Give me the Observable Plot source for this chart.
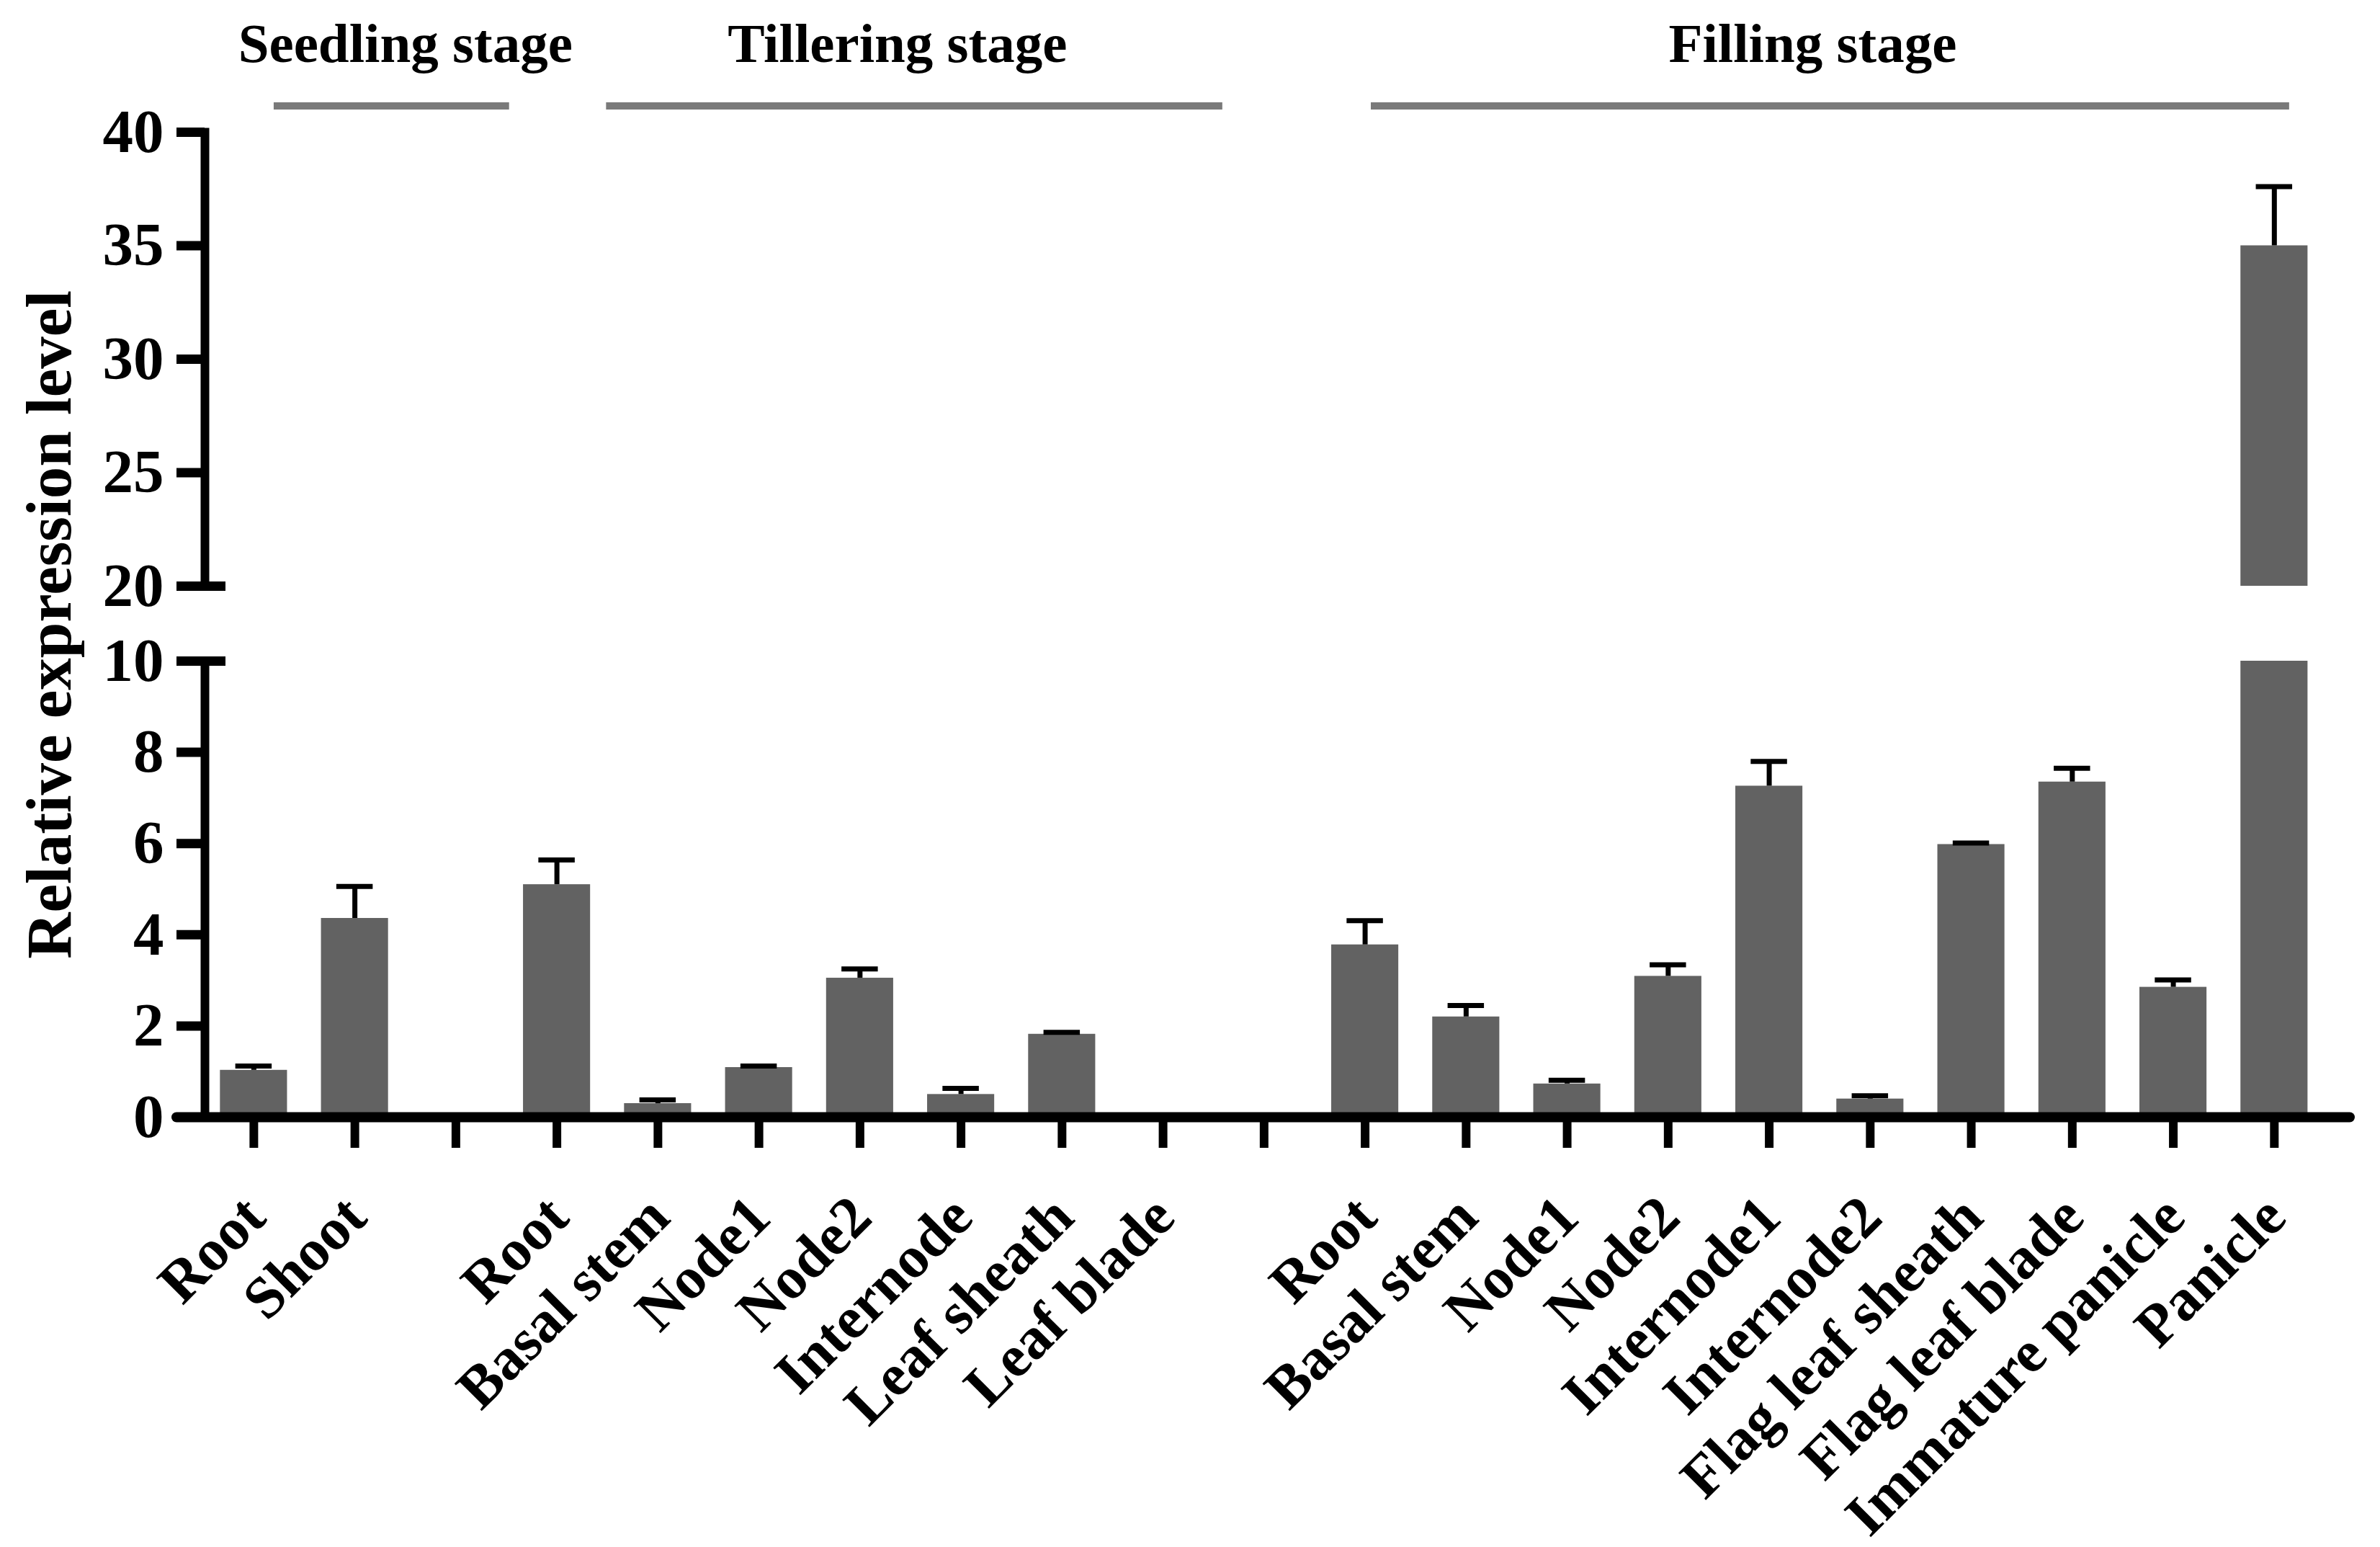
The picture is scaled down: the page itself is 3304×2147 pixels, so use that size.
<!DOCTYPE html>
<html><head><meta charset="utf-8">
<script src="https://cdn.jsdelivr.net/npm/d3@7"></script>
<script src="https://cdn.jsdelivr.net/npm/@observablehq/plot@0.6"></script>
<style>
html,body{margin:0;padding:0;background:#fff;}
#chart{width:3304px;height:2147px;position:relative;overflow:hidden;background:#fff;}
#chart svg{display:block;}
</style></head><body><div id="chart"></div>
<script>
// ---- data ----
const slotLabels = ["Root","Shoot","","Root","Basal stem","Node1","Node2","Internode","Leaf sheath","Leaf blade","","Root","Basal stem","Node1","Node2","Internode1","Internode2","Flag leaf sheath","Flag leaf blade","Immature panicle","Panicle"];
const meanValues = [1.03,4.36,null,5.10,0.30,1.09,3.05,0.50,1.82,null,null,3.78,2.20,0.73,3.09,7.26,0.40,5.98,7.35,2.85,35.0];
const semValues  = [0.09,0.70,null,0.54,0.08,0.03,0.20,0.13,0.04,null,null,0.53,0.25,0.08,0.25,0.54,0.07,0.03,0.30,0.16,2.6];
const stageNames = ["Seedling stage","Tillering stage","Filling stage"];
const stageStart = [0.2,3.49,11.06];   // slot units
const stageEnd   = [2.53,9.59,20.15];
const stageLabelAt = [1.5,6.37,15.43];
const lowerTicks = [0,2,4,6,8,10];
const upperTicks = [20,25,30,35,40];
const yLabel = "Relative expression level";

// ---- derived tables ----
const slots = slotLabels.map((label, i) => ({i, label, mean: meanValues[i], sem: semValues[i]}));
const bars = slots.filter(d => d.mean != null);
const stages = stageNames.map((name, k) => ({name, start: stageStart[k], end: stageEnd[k], at: stageLabelAt[k]}));
const breakLow = lowerTicks[lowerTicks.length - 1];
const breakHigh = upperTicks[0];
const upperBars = bars.filter(d => d.mean > breakHigh);
const lowerErr = bars.filter(d => d.mean + d.sem <= breakLow);

// ---- styling ----
const W = 3304;
const font = "'Liberation Serif','Times New Roman',serif";
const barColor = "#626262";
const barHalf = 0.332, capHalf = 0.18;
const xScale = {type: "linear", domain: [-0.484, 20.75], axis: null};
const common = {width: W, marginLeft: 284, marginRight: 42,
  style: {fontFamily: font, fontWeight: "bold", overflow: "visible", background: "transparent", color: "black"}};

const header = Plot.plot({...common, height: 160, marginTop: 142, marginBottom: 8, x: xScale,
  marks: [
    Plot.barX(stages, {x1: "start", x2: "end", fill: "#7a7a7a"}),
    Plot.text(stages, {x: "at", text: "name", frameAnchor: "top", lineAnchor: "bottom", dy: -57, fontSize: 77, fontWeight: "bold"})
  ]});

const upper = Plot.plot({...common, height: 700, marginTop: 23, marginBottom: 47, x: xScale,
  y: {domain: [breakHigh, upperTicks[upperTicks.length - 1]], axis: null},
  marks: [
    Plot.rectY(upperBars, {x1: d => d.i - barHalf, x2: d => d.i + barHalf, y1: () => breakHigh, y2: "mean", fill: barColor}),
    Plot.ruleX(upperBars, {x: "i", y1: "mean", y2: d => d.mean + d.sem, strokeWidth: 7}),
    Plot.ruleY(upperBars, {y: d => d.mean + d.sem, x1: d => d.i - capHalf, x2: d => d.i + capHalf, strokeWidth: 7}),
    Plot.frame({anchor: "left", strokeWidth: 12}),
    Plot.axisY({ticks: upperTicks, tickSize: 39, tickPadding: 18, strokeWidth: 13, fontSize: 85, label: null}),
    Plot.axisY({ticks: [breakHigh], tickSize: 68, insetLeft: 29, strokeWidth: 13, tickFormat: () => "", label: null})
  ]});

const lower = Plot.plot({...common, height: 1287, marginTop: 57, marginBottom: 597, x: xScale,
  y: {domain: [0, breakLow], axis: null},
  marks: [
    Plot.rectY(bars, {x1: d => d.i - barHalf, x2: d => d.i + barHalf, y1: () => 0, y2: d => Math.min(d.mean, breakLow), fill: barColor}),
    Plot.ruleX(lowerErr, {x: "i", y1: "mean", y2: d => d.mean + d.sem, strokeWidth: 7}),
    Plot.ruleY(lowerErr, {y: d => d.mean + d.sem, x1: d => d.i - capHalf, x2: d => d.i + capHalf, strokeWidth: 7}),
    Plot.frame({anchor: "left", strokeWidth: 12}),
    Plot.ruleY([0], {insetLeft: -39, strokeWidth: 14, strokeLinecap: "round"}),
    Plot.axisY({ticks: lowerTicks, tickSize: 39, tickPadding: 18, strokeWidth: 13, fontSize: 85, label: null}),
    Plot.axisY({ticks: [breakLow], tickSize: 68, insetLeft: 29, strokeWidth: 13, tickFormat: () => "", label: null}),
    Plot.axisX({ticks: slots.map(d => d.i), tickSize: 43, strokeWidth: 12, tickFormat: () => "", label: null}),
    Plot.text(slots.filter(d => d.label), {x: "i", text: "label", frameAnchor: "bottom", rotate: -45, textAnchor: "end", lineAnchor: "bottom", dx: 20, dy: 143, fontSize: 82, fontWeight: "bold"}),
    Plot.text([yLabel], {text: d => d, frameAnchor: "left", rotate: -90, textAnchor: "middle", lineAnchor: "bottom", dx: -187, dy: -367, fontSize: 89, fontWeight: "bold"})
  ]});

const root = document.getElementById("chart");
root.append(header, upper, lower);
</script>
</body></html>
